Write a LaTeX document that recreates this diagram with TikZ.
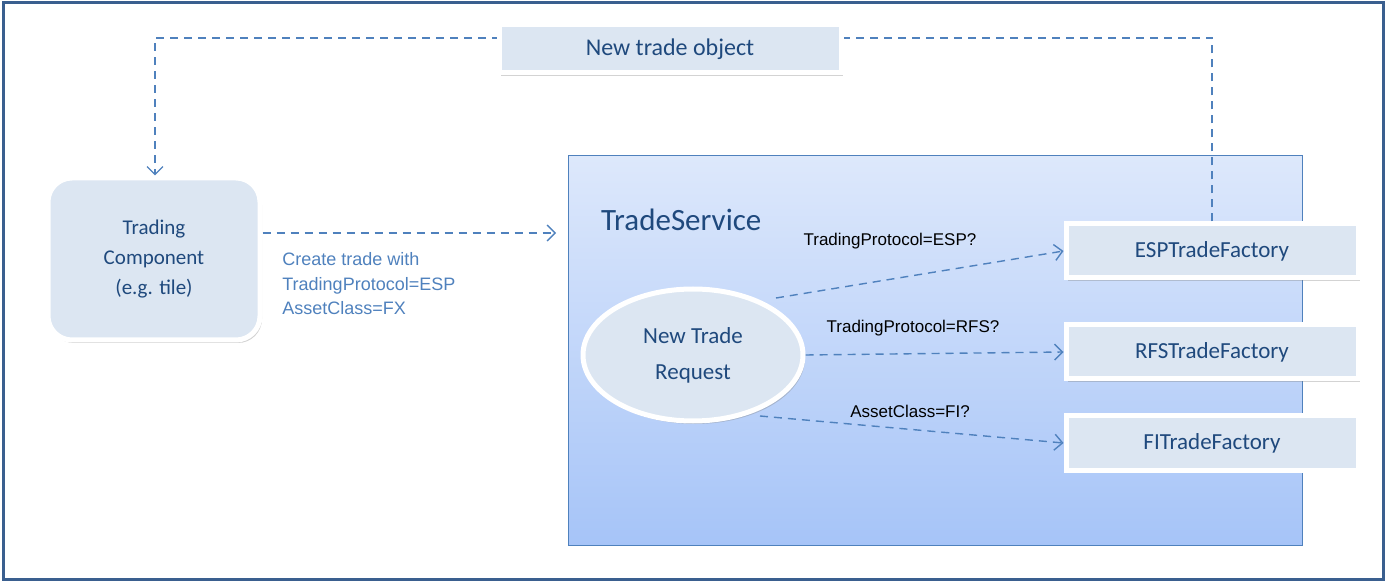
\documentclass[tikz,border=0pt]{standalone}
\usepackage{fontspec}
\setmainfont{Carlito}
\newfontfamily\arialfont{Liberation Sans}
\usetikzlibrary{arrows.meta,shapes.geometric,positioning,shadows}
\definecolor{boxfill}{HTML}{DCE6F2}
\definecolor{boxtext}{HTML}{1F497D}
\definecolor{linkblue}{HTML}{4F81BD}
\definecolor{frameblue}{HTML}{3A5F8F}
\definecolor{svctop}{HTML}{DDE8FB}
\definecolor{svcbot}{HTML}{A6C4F8}
\tikzset{
  basic/.style = {fill=boxfill, draw=white, line width=2.5pt, text=boxtext,
                  drop shadow={opacity=0.35, shadow xshift=1pt, shadow yshift=-1.5pt}},
  factory/.style = {basic, rectangle, minimum width=146pt, minimum height=27pt,
                    font=\fontsize{11.5}{13}\selectfont},
  link/.style = {draw=linkblue, dashed, dash pattern=on 4pt off 3pt, line width=0.7pt,
                 -{Straight Barb[length=4pt,width=8pt]}},
  cond/.style = {font=\arialfont\fontsize{8.5}{10}\selectfont, text=black}
}
\begin{document}
\begin{tikzpicture}[x=0.5pt,y=-0.5pt]
\useasboundingbox (0,0) rectangle (1386,582);
\draw[frameblue, line width=1.5pt] (3,3) rectangle (1383,579);
% service container
\node[draw=linkblue, line width=0.7pt, top color=svctop, bottom color=svcbot,
      minimum width=367pt, minimum height=195pt, anchor=north west,
      inner sep=0pt] (svc) at (568,155) {};
\node[anchor=west, text=boxtext, font=\fontsize{15.5}{18}\selectfont] (title) at (594,220) {TradeService};
% nodes
\node[basic, rounded corners=12pt, minimum width=106pt, minimum height=81pt,
      align=center, font=\fontsize{10.5}{15}\selectfont] (comp) at (154,259)
      {Trading\\Component\\(e.g. tile)};
\node[basic, ellipse, minimum width=110pt, minimum height=66pt, align=center,
      font=\fontsize{11.5}{18}\selectfont] (req) at (693,355) {New Trade\\Request};
\node[factory] (esp) at (1212,251) {ESPTradeFactory};
\node[factory] (rfs) at (1212,352) {RFSTradeFactory};
\node[factory] (fi) at (1212,443) {FITradeFactory};
% connectors
\draw[link] (comp.east |- 0,233) -- (556,233);
\node[anchor=north west, align=left, text=linkblue, inner sep=0pt,
      font=\arialfont\fontsize{9}{12.3}\selectfont] (note) at (282,252)
      {Create trade with\\TradingProtocol=ESP\\AssetClass=FX};
\draw[link] (776,298) -- (esp.west);
\draw[link] (req.east) -- (rfs.west);
\draw[link] (760,416) -- (fi.west);
\node[cond] (c1) at (890,241) {TradingProtocol=ESP?};
\node[cond] (c2) at (913,328) {TradingProtocol=RFS?};
\node[cond] (c3) at (910,411) {AssetClass=FI?};
% feedback
\coordinate (up) at (esp.north |- 0,38);
\coordinate (left) at (155,38);
\draw[link] (esp.north) -- (up) -- (left) -- (comp.north -| left);
\node[basic, rectangle, minimum width=171pt, minimum height=24pt,
      font=\fontsize{12}{14}\selectfont] (obj) at (670,49) {New trade object};
\end{tikzpicture}
\end{document}
